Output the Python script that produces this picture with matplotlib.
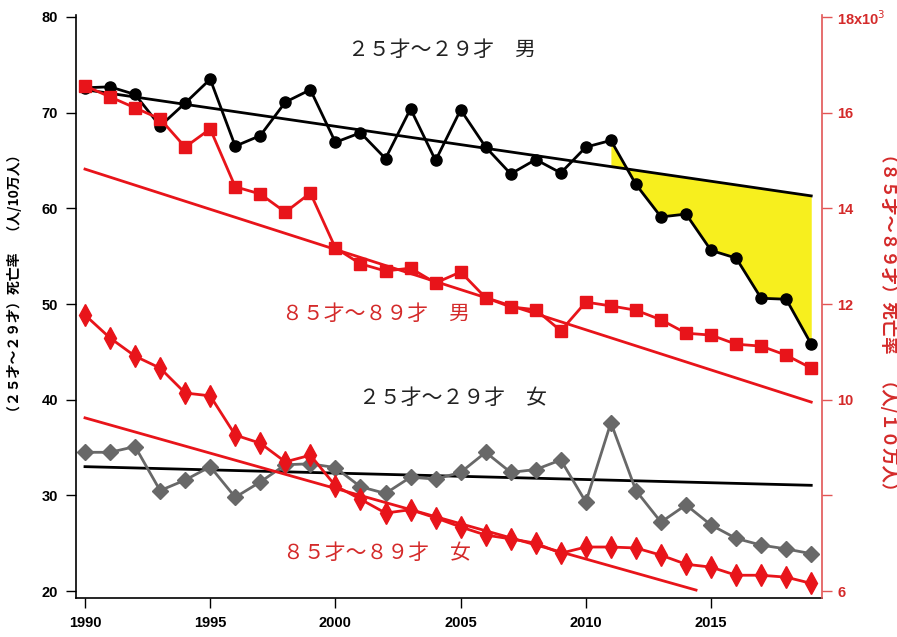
import numpy as np
import matplotlib.pyplot as plt

plt.rcParams['font.family'] = ['Liberation Sans', 'Noto Sans CJK JP', 'DejaVu Sans']

years = list(range(1990, 2020))

# 25-29 male, per 100k (left axis)
male25 = [72.6, 72.7, 71.9, 68.6, 71.0, 73.5, 66.5, 67.6, 71.1, 72.4,
          66.9, 67.9, 65.2, 70.4, 65.0, 70.3, 66.4, 63.6, 65.1, 63.7,
          66.4, 67.1, 62.5, 59.1, 59.4, 55.6, 54.8, 50.6, 50.5, 45.8]
# 25-29 female, per 100k (left axis)
female25 = [34.5, 34.5, 35.1, 30.5, 31.6, 33.0, 29.8, 31.4, 33.2, 33.3,
            32.9, 30.9, 30.2, 31.9, 31.7, 32.4, 34.5, 32.4, 32.7, 33.7,
            29.3, 37.6, 30.5, 27.2, 29.0, 26.9, 25.5, 24.8, 24.4, 23.9]
# 85-89 male, per 100k (right axis)
male85 = [16560, 16330, 16100, 15870, 15280, 15660, 14450, 14300, 13920, 14320,
          13170, 12840, 12690, 12750, 12440, 12670, 12130, 11940, 11880, 11440,
          12040, 11960, 11870, 11670, 11390, 11350, 11160, 11120, 10930, 10660]
# 85-89 female, per 100k (right axis)
female85 = [11770, 11290, 10910, 10660, 10140, 10080, 9260, 9090, 8700, 8840,
            8200, 7920, 7630, 7700, 7530, 7340, 7170, 7090, 7000, 6790,
            6920, 6920, 6900, 6750, 6560, 6500, 6330, 6330, 6290, 6160]

# trend lines (start / end)
trend_m25_x, trend_m25_y = [1990, 2019], [72.4, 61.3]
trend_f25_x, trend_f25_y = [1990, 2019], [33.0, 31.05]
trend_m85_x, trend_m85_y = [1990, 2019], [14820, 9950]
trend_f85_x, trend_f85_y = [1990, 2014.4], [9620, 6020]

red = '#e8141a'
red_axis = '#e25555'
red_text = '#d42a2a'
gray = '#686868'

fig = plt.figure(figsize=(8.97, 6.37), dpi=100)
ax = fig.add_axes([0.0847, 0.0612, 0.8317, 0.9153])
ax2 = ax.twinx()

# yellow highlight between male trend and data, 2011 onward
yrs = np.array(years, dtype=float)
m25 = np.array(male25)
tr = np.interp(yrs, trend_m25_x, trend_m25_y)
sel = yrs >= 2011
ax.fill_between(yrs[sel], m25[sel], tr[sel], color='#f7ef1e', lw=0, zorder=1)

ax.plot(trend_m25_x, trend_m25_y, color='black', lw=2, zorder=2)
ax.plot(trend_f25_x, trend_f25_y, color='black', lw=2, zorder=2)
ax.plot(years, male25, color='black', lw=2, marker='o', ms=8, zorder=3)
ax.plot(years, female25, color=gray, lw=2, marker='D', ms=8, zorder=3)

ax2.plot(trend_m85_x, trend_m85_y, color=red, lw=2)
ax2.plot(trend_f85_x, trend_f85_y, color=red, lw=2)
ax2.plot(years, male85, color=red, lw=2, marker='s', ms=8)
ax2.plot(years, female85, color=red, lw=2, marker='d', ms=11)

ax.set_xlim(1989.64, 2019.43)
ax.set_ylim(19.27, 80.21)
ax2.set_ylim(5854, 18042)

ax.set_xticks([1990, 1995, 2000, 2005, 2010, 2015])
ax.set_yticks([20, 30, 40, 50, 60, 70, 80])
ax2.set_yticks([6000, 8000, 10000, 12000, 14000, 16000, 18000])
ax2.set_yticklabels(['6', '', '10', '12', '14', '16', '18x10$^3$'])

for s in ['top', 'right']:
    ax.spines[s].set_visible(False)
for s in ['top', 'left', 'bottom']:
    ax2.spines[s].set_visible(False)
ax2.spines['right'].set_color(red_axis)
ax2.spines['right'].set_linewidth(1.2)
ax.spines['left'].set_linewidth(1.2)
ax.spines['bottom'].set_linewidth(1.2)

ax.tick_params(axis='both', length=7, width=1, labelsize=10.5, pad=6)
ax2.tick_params(axis='y', length=7, width=1, colors=red_axis, labelcolor=red_text,
                labelsize=10.5, pad=4)
for lab in ax.get_xticklabels() + ax.get_yticklabels() + ax2.get_yticklabels():
    lab.set_fontweight('bold')

jp = ['Noto Sans CJK JP', 'DejaVu Sans']
ax.text(2004.26, 76.55, '２５才〜２９才　男', fontsize=15, ha='center', va='center',
        family=jp, color='#222222')
ax.text(2001.6, 48.96, '８５才〜８９才　男', fontsize=15, ha='center', va='center',
        family=jp, color=red_text)
ax.text(2004.68, 40.18, '２５才〜２９才　女', fontsize=15, ha='center', va='center',
        family=jp, color='#222222')
ax.text(2001.64, 23.97, '８５才〜８９才　女', fontsize=15, ha='center', va='center',
        family=jp, color=red_text)

fig.text(15 / 897, 1 - 283.5 / 637, '（２５才〜２９才）死亡率　（人/10万人）', rotation=90,
         ha='center', va='center', fontsize=10, fontweight='bold', family=jp)
fig.text(888 / 897, 1 - 322 / 637, '（８５才〜８９才）死亡率　（人/１０万人）', rotation=270,
         ha='center', va='center', fontsize=12.5, fontweight='bold', family=jp, color=red_text)

fig.savefig('out.png', dpi=100)
